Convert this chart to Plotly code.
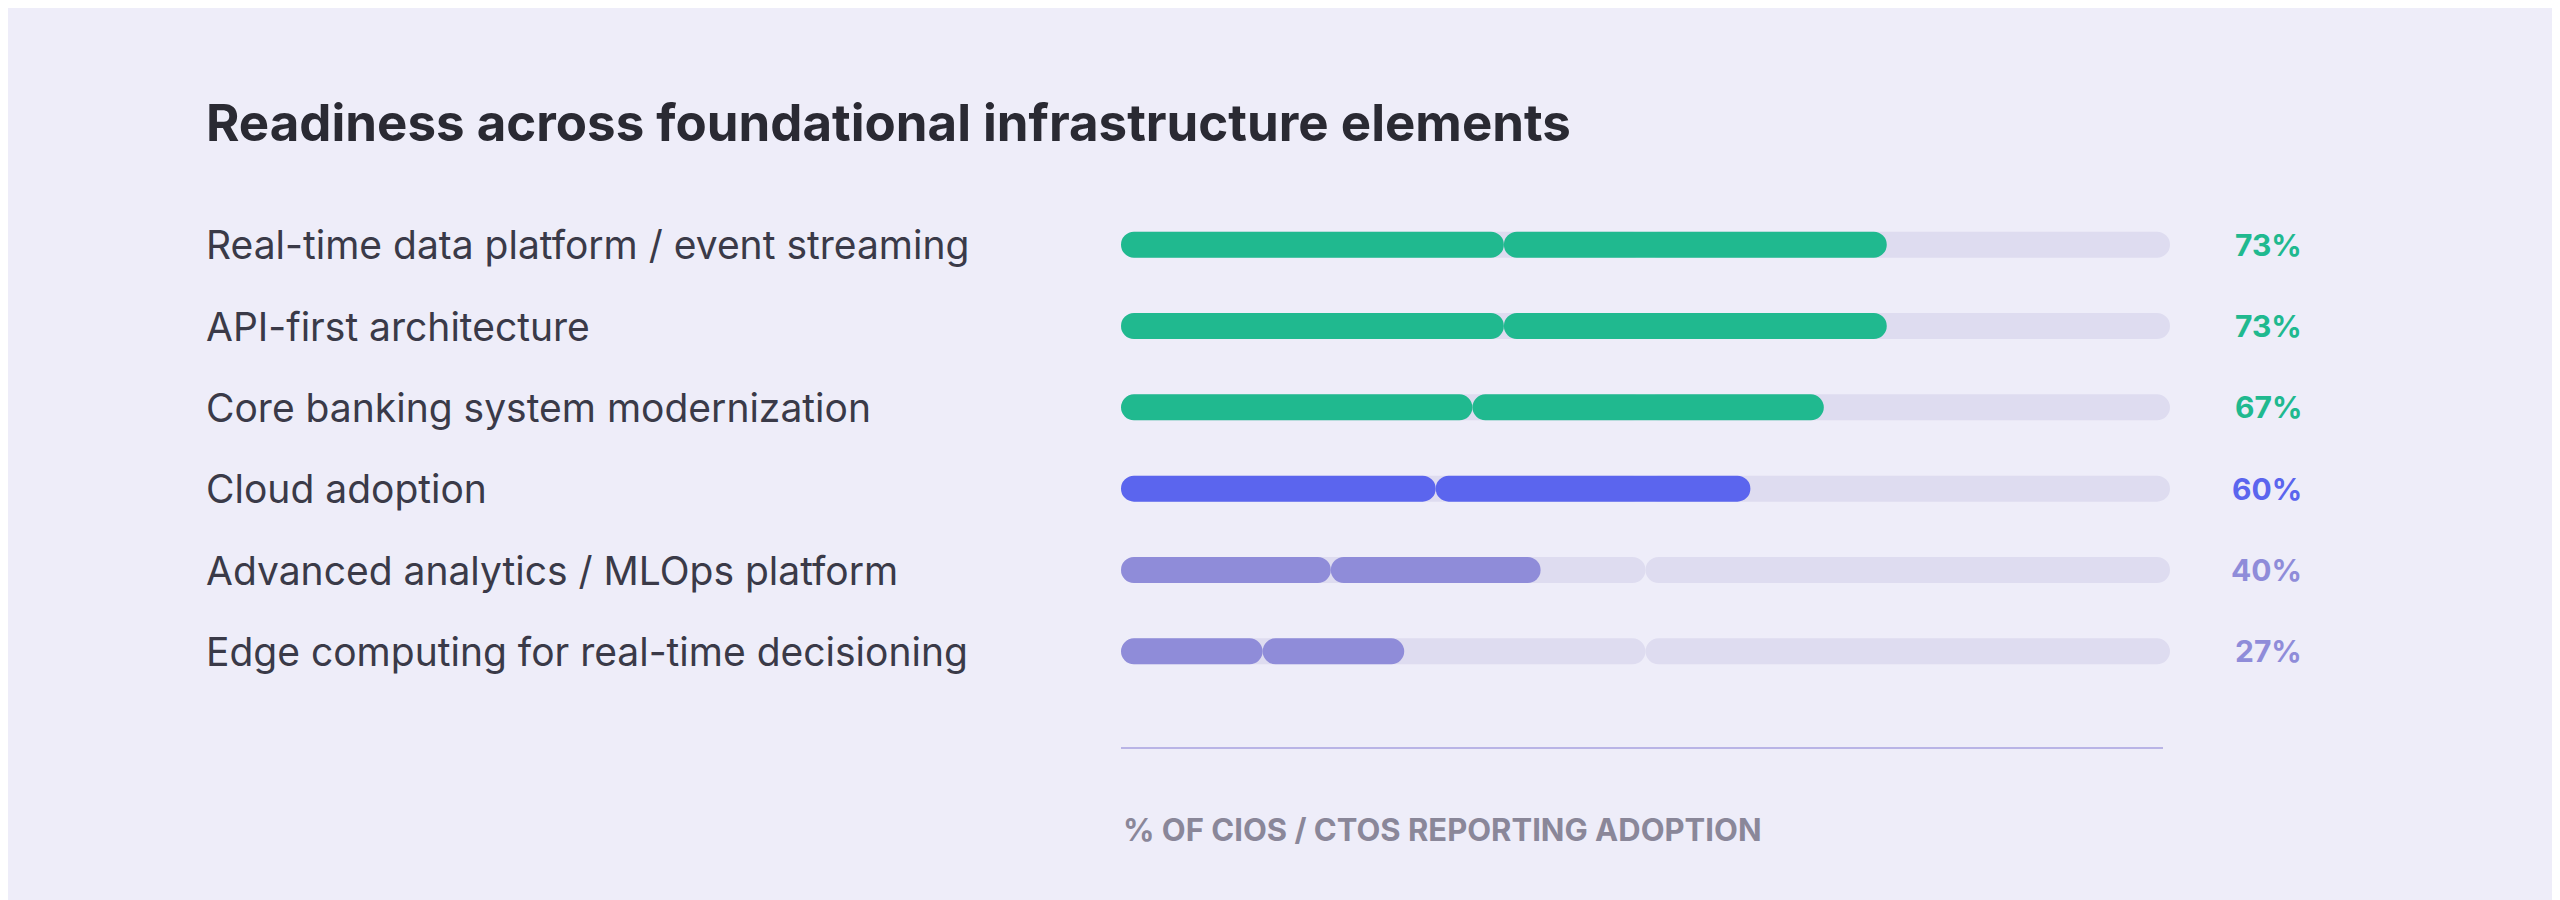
import plotly.graph_objects as go

categories = ["Real-time data platform / event streaming", "API-first architecture",
              "Core banking system modernization", "Cloud adoption",
              "Advanced analytics / MLOps platform", "Edge computing for real-time decisioning"]
values = [73, 73, 67, 60, 40, 27]
colors = ["#20b98f", "#20b98f", "#20b98f", "#5b65ee", "#8f8cd9", "#8f8cd9"]
track_max = 100

W, H = 2560, 900
L, R = 1113, 2162
T, B = 196, 684
pw, ph = R - L, B - T

fig = go.Figure()

def rounded_bar(vals, color):
    # two halves from the midpoint outward, so both ends get rounded
    half = [v / 2 for v in vals]
    for sign in (-1, 1):
        fig.add_bar(y=categories, x=[sign * h for h in half], base=half, orientation="h",
                    marker=dict(color=color, cornerradius=13, line=dict(width=0)),
                    width=0.32, hoverinfo="skip")

rounded_bar([track_max] * len(categories), "#dedcf0")
rounded_bar(values, colors)

for c, v, col in zip(categories, values, colors):
    fig.add_annotation(x=-(L - 196) / pw, xref="paper", y=c, yref="y", text=c,
                       xanchor="left", showarrow=False,
                       font=dict(size=39, color="#3a3a48", family="Inter"))
    fig.add_annotation(x=(2296 - L) / pw, xref="paper", y=c, yref="y", text=f"<b>{v}%</b>",
                       xanchor="right", showarrow=False,
                       font=dict(size=30, color=col, family="Inter"))

fig.add_shape(type="line", xref="paper", yref="paper", x0=0, x1=(2155 - L) / pw,
              y0=(B - 740) / ph, y1=(B - 740) / ph, line=dict(color="#b9b4e6", width=2))
fig.add_annotation(x=0, xref="paper", y=(B - 821) / ph, yref="paper",
                   text="<b>% OF CIOS / CTOS REPORTING ADOPTION</b>", xanchor="left",
                   yanchor="middle", showarrow=False,
                   font=dict(size=31, color="#8a8799", family="Inter"))
fig.add_annotation(x=-(L - 196) / pw, xref="paper", y=(B - 114) / ph, yref="paper",
                   text="<b>Readiness across foundational infrastructure elements</b>",
                   xanchor="left", yanchor="middle", showarrow=False,
                   font=dict(size=51, color="#2a2a33", family="Inter"))

fig.update_layout(width=W, height=H, barmode="overlay", showlegend=False,
                  paper_bgcolor="#eeedf9", plot_bgcolor="#eeedf9",
                  margin=dict(l=L, r=W - R, t=T, b=H - B),
                  xaxis=dict(range=[0, track_max], visible=False),
                  yaxis=dict(autorange="reversed", visible=False))
fig.write_html("out.html")
